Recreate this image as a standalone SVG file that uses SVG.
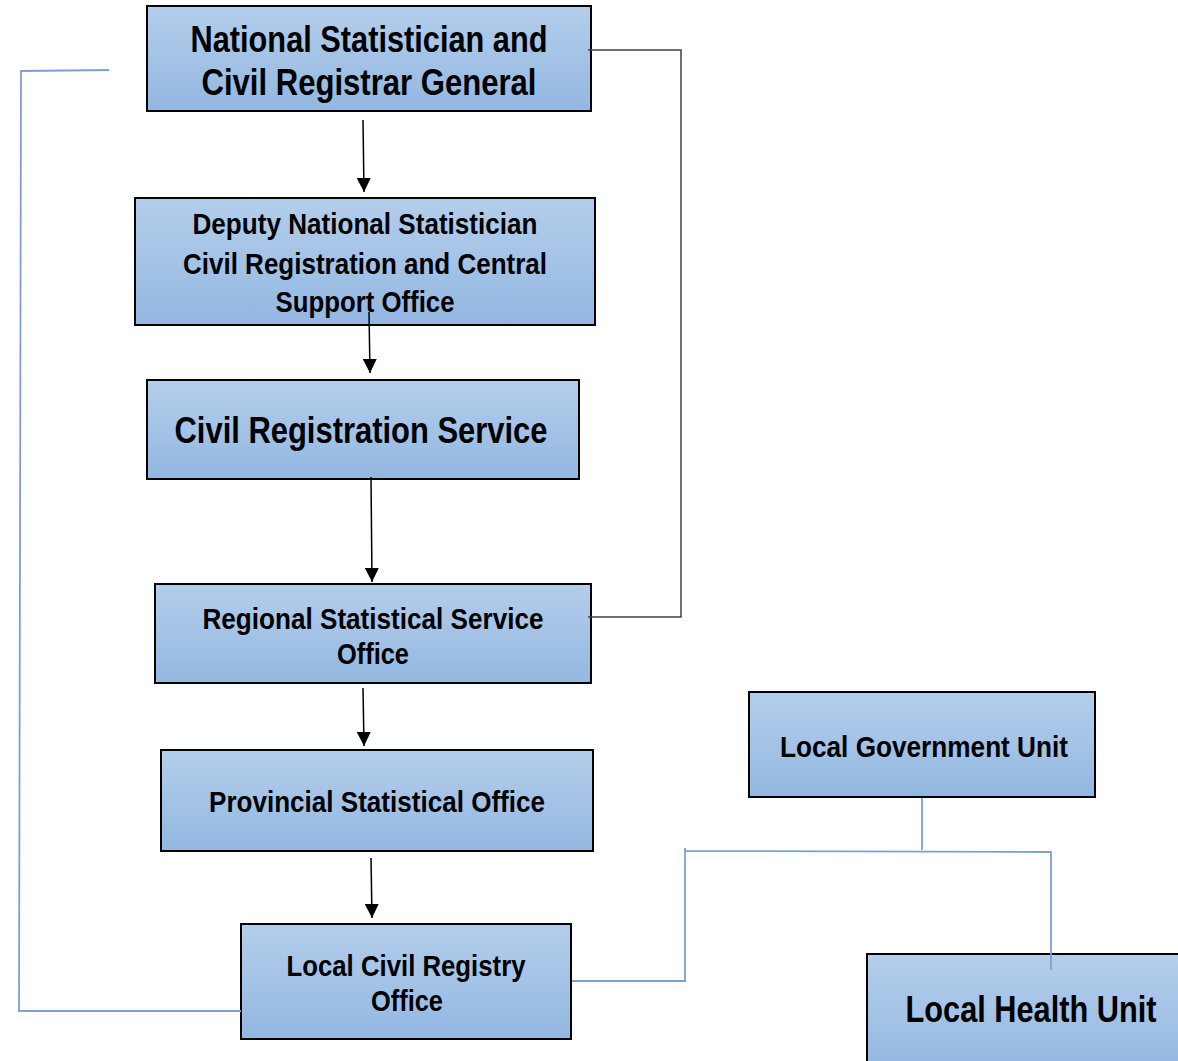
<svg xmlns="http://www.w3.org/2000/svg" width="1178" height="1061" viewBox="0 0 1178 1061">
<defs>
<linearGradient id="g" x1="0" y1="0" x2="0" y2="1">
<stop offset="0" stop-color="#B4CEEB"/>
<stop offset="1" stop-color="#93B7E1"/>
</linearGradient>
<marker id="ah" markerWidth="14" markerHeight="14" refX="14" refY="7" orient="auto" markerUnits="userSpaceOnUse">
<path d="M0,0 L14,7 L0,14 Z" fill="#000"/>
</marker>
<style>
.box{fill:url(#g);stroke:#000;stroke-width:2}
text{font-family:"Liberation Sans Narrow","Liberation Sans",Arial,sans-serif;font-weight:bold;fill:#000;text-anchor:middle}
.big{font-size:36px}
.mid{font-size:30px}
.arr{stroke:#000;stroke-width:1.5;fill:none;marker-end:url(#ah)}
.gray{stroke:#404040;stroke-width:1.5;fill:none}
.blue{stroke:#7C9FD8;stroke-width:1.8;fill:none}
</style>
</defs>
<g id="n1"><rect class="box" x="147" y="6" width="444" height="105"/>
<text class="big" x="369" y="52" textLength="357" lengthAdjust="spacingAndGlyphs">National Statistician and</text>
<text class="big" x="369" y="95" textLength="335" lengthAdjust="spacingAndGlyphs">Civil Registrar General</text></g>
<g id="n2"><rect class="box" x="135" y="198" width="460" height="127"/>
<text class="mid" x="365" y="234" textLength="345" lengthAdjust="spacingAndGlyphs">Deputy  National  Statistician</text>
<text class="mid" x="365" y="274" textLength="364" lengthAdjust="spacingAndGlyphs">Civil Registration  and Central</text>
<text class="mid" x="365" y="312" textLength="179" lengthAdjust="spacingAndGlyphs">Support Office</text></g>
<g id="n3"><rect class="box" x="147" y="380" width="432" height="99"/>
<text class="big" x="361" y="443" textLength="373" lengthAdjust="spacingAndGlyphs">Civil Registration Service</text></g>
<g id="n4"><rect class="box" x="155" y="584" width="436" height="99"/>
<text class="mid" x="373" y="629" textLength="341" lengthAdjust="spacingAndGlyphs">Regional Statistical  Service</text>
<text class="mid" x="373" y="664" textLength="72" lengthAdjust="spacingAndGlyphs">Office</text></g>
<g id="n5"><rect class="box" x="161" y="750" width="432" height="101"/>
<text class="mid" x="377" y="812" textLength="336" lengthAdjust="spacingAndGlyphs">Provincial Statistical Office</text></g>
<g id="n6"><rect class="box" x="241" y="924" width="330" height="115"/>
<text class="mid" x="406" y="976" textLength="239" lengthAdjust="spacingAndGlyphs">Local  Civil Registry</text>
<text class="mid" x="407" y="1011" textLength="72" lengthAdjust="spacingAndGlyphs">Office</text></g>
<g id="n7"><rect class="box" x="749" y="692" width="346" height="105"/>
<text class="mid" x="924" y="757" textLength="288" lengthAdjust="spacingAndGlyphs">Local  Government  Unit</text></g>
<g id="n8"><rect class="box" x="867" y="954" width="320" height="120"/>
<text class="big" x="1031" y="1022" textLength="251" lengthAdjust="spacingAndGlyphs">Local Health Unit</text></g>
<g id="connectors">
<line class="arr" x1="363" y1="120" x2="364" y2="192"/>
<line class="arr" x1="369" y1="312" x2="370" y2="373"/>
<line class="arr" x1="371" y1="477" x2="372" y2="582"/>
<line class="arr" x1="363" y1="688" x2="364" y2="746"/>
<line class="arr" x1="371" y1="858" x2="372" y2="918"/>
<polyline class="gray" points="588,50 681,50 681,617 588,617"/>
<polyline class="blue" points="109,70 21,71 19,1011 241,1011"/>
<line class="blue" x1="922" y1="798" x2="922" y2="850"/>
<polyline class="blue" points="685,848 685,851 1051,852 1051,970"/>
<polyline class="blue" points="685,851 685,981 572,981"/>
</g>
</svg>
